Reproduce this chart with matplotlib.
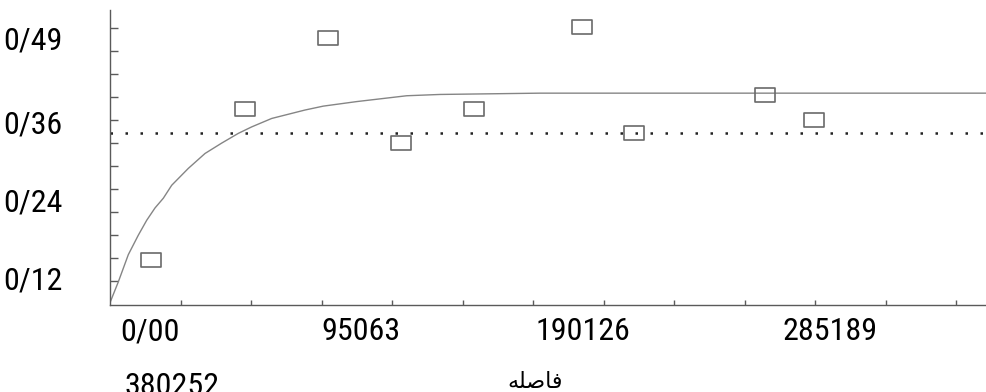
import matplotlib
matplotlib.use("Agg")
import matplotlib.pyplot as plt
from matplotlib import font_manager
from matplotlib.path import Path

# experimental variogram points (lag distance, semivariance)
lag = [13800, 45500, 73500, 98100, 122700, 159100, 176600, 220800, 237300]
gamma = [0.148, 0.381, 0.490, 0.328, 0.381, 0.507, 0.344, 0.402, 0.364]

# fitted model curve
model_lag = [0, 2800, 6170, 9540, 12370, 15170, 17970, 20800, 26400, 32030,
             37650, 43250, 47770, 54510, 65740, 71900, 83160, 100020, 111240,
             128100, 144950, 295300]
model_gamma = [0.082, 0.114, 0.156, 0.186, 0.209, 0.228, 0.243, 0.263, 0.289,
               0.312, 0.328, 0.343, 0.353, 0.366, 0.379, 0.385, 0.392, 0.401,
               0.403, 0.404, 0.405, 0.405]

# sample variance (dotted line)
variance = 0.344

y_ticks = [0.12, 0.24, 0.36, 0.49]
y_labels = ["0/12", "0/24", "0/36", "0/49"]
x_labels = ["0/00", "95063", "190126", "285189"]
x_label_pos = [13500, 84600, 159400, 242700]
x_last_label = "380252"
x_title = "\uFEEA\uFEE0\uFEBB\uFE8E\uFED3"  # فاصله, shaped for left-to-right drawing

AXIS_GREY = "#5a5a5a"


def pick_narrow_font():
    '''
        Find a condensed sans face if one is installed, else plain Roboto
    '''
    wanted = ["Liberation Sans Narrow", "Roboto Condensed", "DejaVu Sans Condensed",
              "Noto Sans Condensed", "Open Sans Condensed", "Arial Narrow"]
    names = {f.name for f in font_manager.fontManager.ttflist}
    for name in wanted:
        if name in names:
            return [name, "DejaVu Sans"], "normal", 23
    for f in font_manager.fontManager.ttflist:
        if str(f.stretch) in ("condensed", "semi-condensed", "extra-condensed") \
                and f.weight in (400, "normal", "regular") and f.style == "normal":
            return [f.name, "DejaVu Sans"], f.stretch, 23
    return ["Roboto", "DejaVu Sans"], "normal", 18


def draw_chart():
    font, stretch, size = pick_narrow_font()
    txt = dict(fontfamily=font, fontstretch=stretch, fontsize=size)

    fig = plt.figure(figsize=(9.86, 3.92), dpi=100)
    ax = fig.add_axes([110 / 986, 1 - 305 / 392, 876 / 986, 295 / 392])

    ax.set_xlim(0, 295300)
    ax.set_ylim(0.0784, 0.5332)

    ax.plot(model_lag, model_gamma, color="#858585", lw=1.0, zorder=2)
    ax.axhline(variance, color="#222222", lw=1.8,
               linestyle=(0, (1, 5)), dash_capstyle="butt", zorder=2)

    box = Path([(-1.5, -1), (1.5, -1), (1.5, 1), (-1.5, 1), (-1.5, -1)],
               [Path.MOVETO, Path.LINETO, Path.LINETO, Path.LINETO, Path.CLOSEPOLY])
    ax.plot(lag, gamma, linestyle="none", marker=box, markersize=15,
            mfc="none", mec="#6a6a6a", mew=1.2, zorder=3)

    for side in ("top", "right"):
        ax.spines[side].set_visible(False)
    for side in ("left", "bottom"):
        ax.spines[side].set_color(AXIS_GREY)
        ax.spines[side].set_linewidth(1.0)

    # small inward ticks on both axes
    ax.set_xticks([23766 * k for k in range(1, 13)], minor=True)
    ax.set_yticks([0.1154 + 0.03546 * k for k in range(12)], minor=True)
    ax.tick_params(axis="x", which="minor", direction="in", length=3.5,
                   width=1.0, color=AXIS_GREY)
    ax.tick_params(axis="y", which="minor", direction="in", length=6,
                   width=1.0, color=AXIS_GREY)

    # labels sit apart from the tick marks
    ax.set_xticks(x_label_pos)
    ax.set_xticklabels(x_labels, **txt)
    ax.set_yticks(y_ticks)
    ax.set_yticklabels(y_labels, **txt)
    ax.tick_params(axis="x", which="major", length=0, pad=9)
    ax.tick_params(axis="y", which="major", length=0, pad=34)

    fig.text(124 / 986, 1 - 372 / 392, x_last_label, ha="left", va="top", **txt)
    fig.text(535 / 986, 1 - 388 / 392, x_title, fontfamily=["DejaVu Sans"],
             fontsize=16, ha="center", va="baseline")

    fig.savefig("out.png", dpi=100)


def main():
    draw_chart()


if __name__ == "__main__":
    main()
